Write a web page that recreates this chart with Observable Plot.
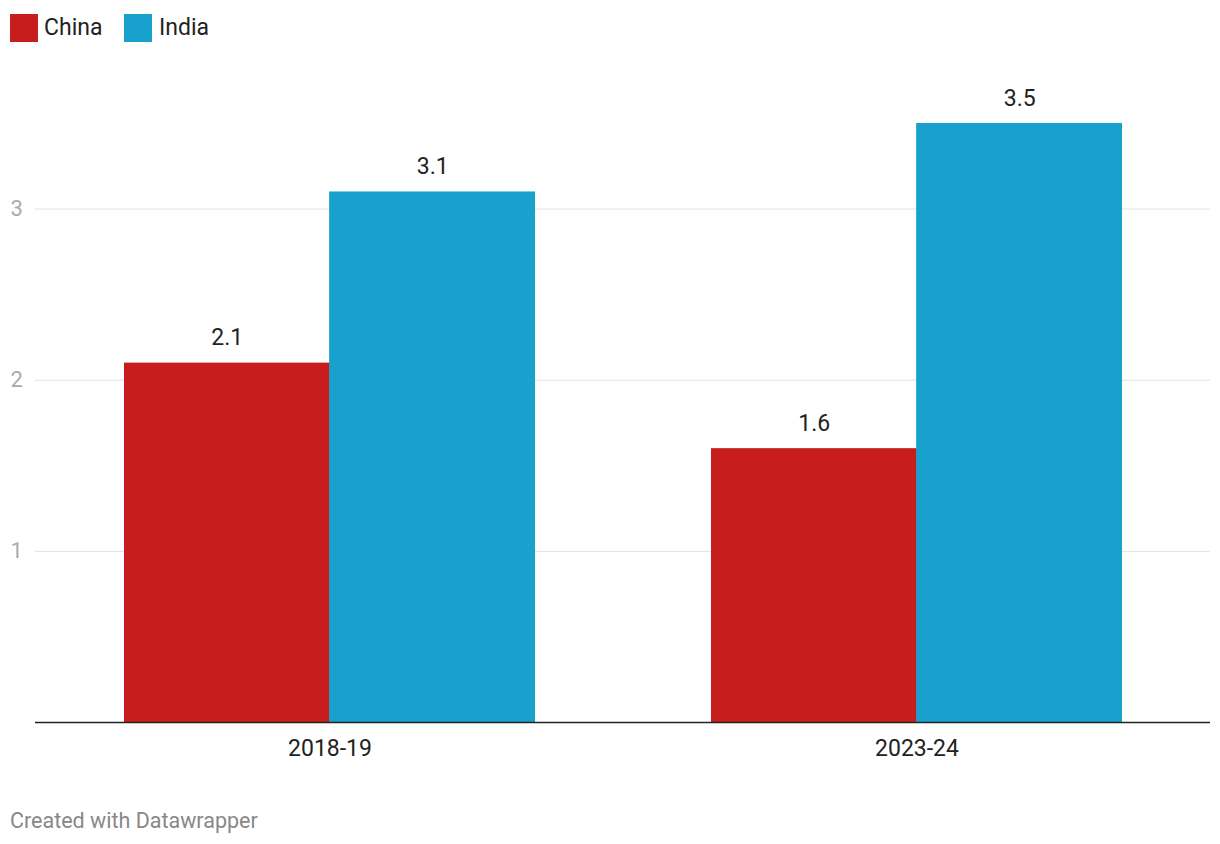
<!DOCTYPE html>
<html>
<head>
<meta charset="utf-8">
<script src="https://cdn.jsdelivr.net/npm/d3@7"></script>
<script src="https://cdn.jsdelivr.net/npm/@observablehq/plot@0.6"></script>
<style>
  body { margin: 0; background: #fff; font-family: Roboto, sans-serif; }
  #legend { position: relative; height: 60px; }
  .sw { position: absolute; top: 14px; width: 28px; height: 28px; }
  .lb { position: absolute; top: 12px; font-size: 23px; color: #222; line-height: 32px; }
  #chart svg { display: block; }
  #credit { font-size: 21.5px; color: #888; margin: 28px 0 0 10px; line-height: 26px; }
</style>
</head>
<body>
<div id="legend"></div>
<div id="chart"></div>
<div id="credit">Created with Datawrapper</div>
<script>
const years = ["2018-19", "2023-24"];
const countries = ["China", "India"];
const china = [2.1, 1.6];
const india = [3.1, 3.5];
const colors = ["#c71e1d", "#18a1cd"];
const yTicks = [1, 2, 3];

const chinaData = years.map((y, i) => ({year: y, country: "China", value: china[i]}));
const indiaData = years.map((y, i) => ({year: y, country: "India", value: india[i]}));

// legend
const legend = document.getElementById("legend");
const legendPos = [[10, 44], [124, 159]];
countries.forEach((c, i) => {
  const s = document.createElement("div");
  s.className = "sw"; s.style.left = legendPos[i][0] + "px"; s.style.background = colors[i];
  const t = document.createElement("div");
  t.className = "lb"; t.style.left = legendPos[i][1] + "px"; t.textContent = c;
  legend.appendChild(s); legend.appendChild(t);
});

const W = 1220, ML = 35, MR = 10, PI = 0.3, PO = 0.15;
const bw = d3.scaleBand().domain(years).range([ML, W - MR]).paddingInner(PI).paddingOuter(PO).bandwidth();
const half = bw / 2;

const chart = Plot.plot({
  width: W,
  height: 720,
  marginLeft: ML,
  marginRight: MR,
  marginTop: 63,
  marginBottom: 58,
  style: {fontFamily: "Roboto, sans-serif", background: "#fff"},
  x: {domain: years, paddingInner: PI, paddingOuter: PO, label: null},
  y: {domain: [0, 3.5], axis: null},
  color: {domain: countries, range: colors},
  marks: [
    Plot.ruleY(yTicks, {stroke: "#e2e2e2", strokeWidth: 1}),
    Plot.axisY(yTicks, {tickSize: 0, tickPadding: 25, textAnchor: "start", tickFormat: d => String(d), fontSize: 22, fill: "#aaa", label: null}),
    Plot.barY(chinaData, {x: "year", y: "value", fill: "country", insetRight: half - 0.5}),
    Plot.barY(indiaData, {x: "year", y: "value", fill: "country", insetLeft: half - 0.5}),
    Plot.text(chinaData, {x: "year", y: "value", text: d => d.value.toFixed(1), dx: -half / 2, dy: -25, fontSize: 23, fill: "#222"}),
    Plot.text(indiaData, {x: "year", y: "value", text: d => d.value.toFixed(1), dx: half / 2, dy: -25, fontSize: 23, fill: "#222"}),
    Plot.ruleY([0], {stroke: "#222", strokeWidth: 1.6}),
    Plot.axisX({anchor: "bottom", tickSize: 0, tickPadding: 17, fontSize: 23, fill: "#222", label: null})
  ]
});
document.getElementById("chart").appendChild(chart);
</script>
</body>
</html>
